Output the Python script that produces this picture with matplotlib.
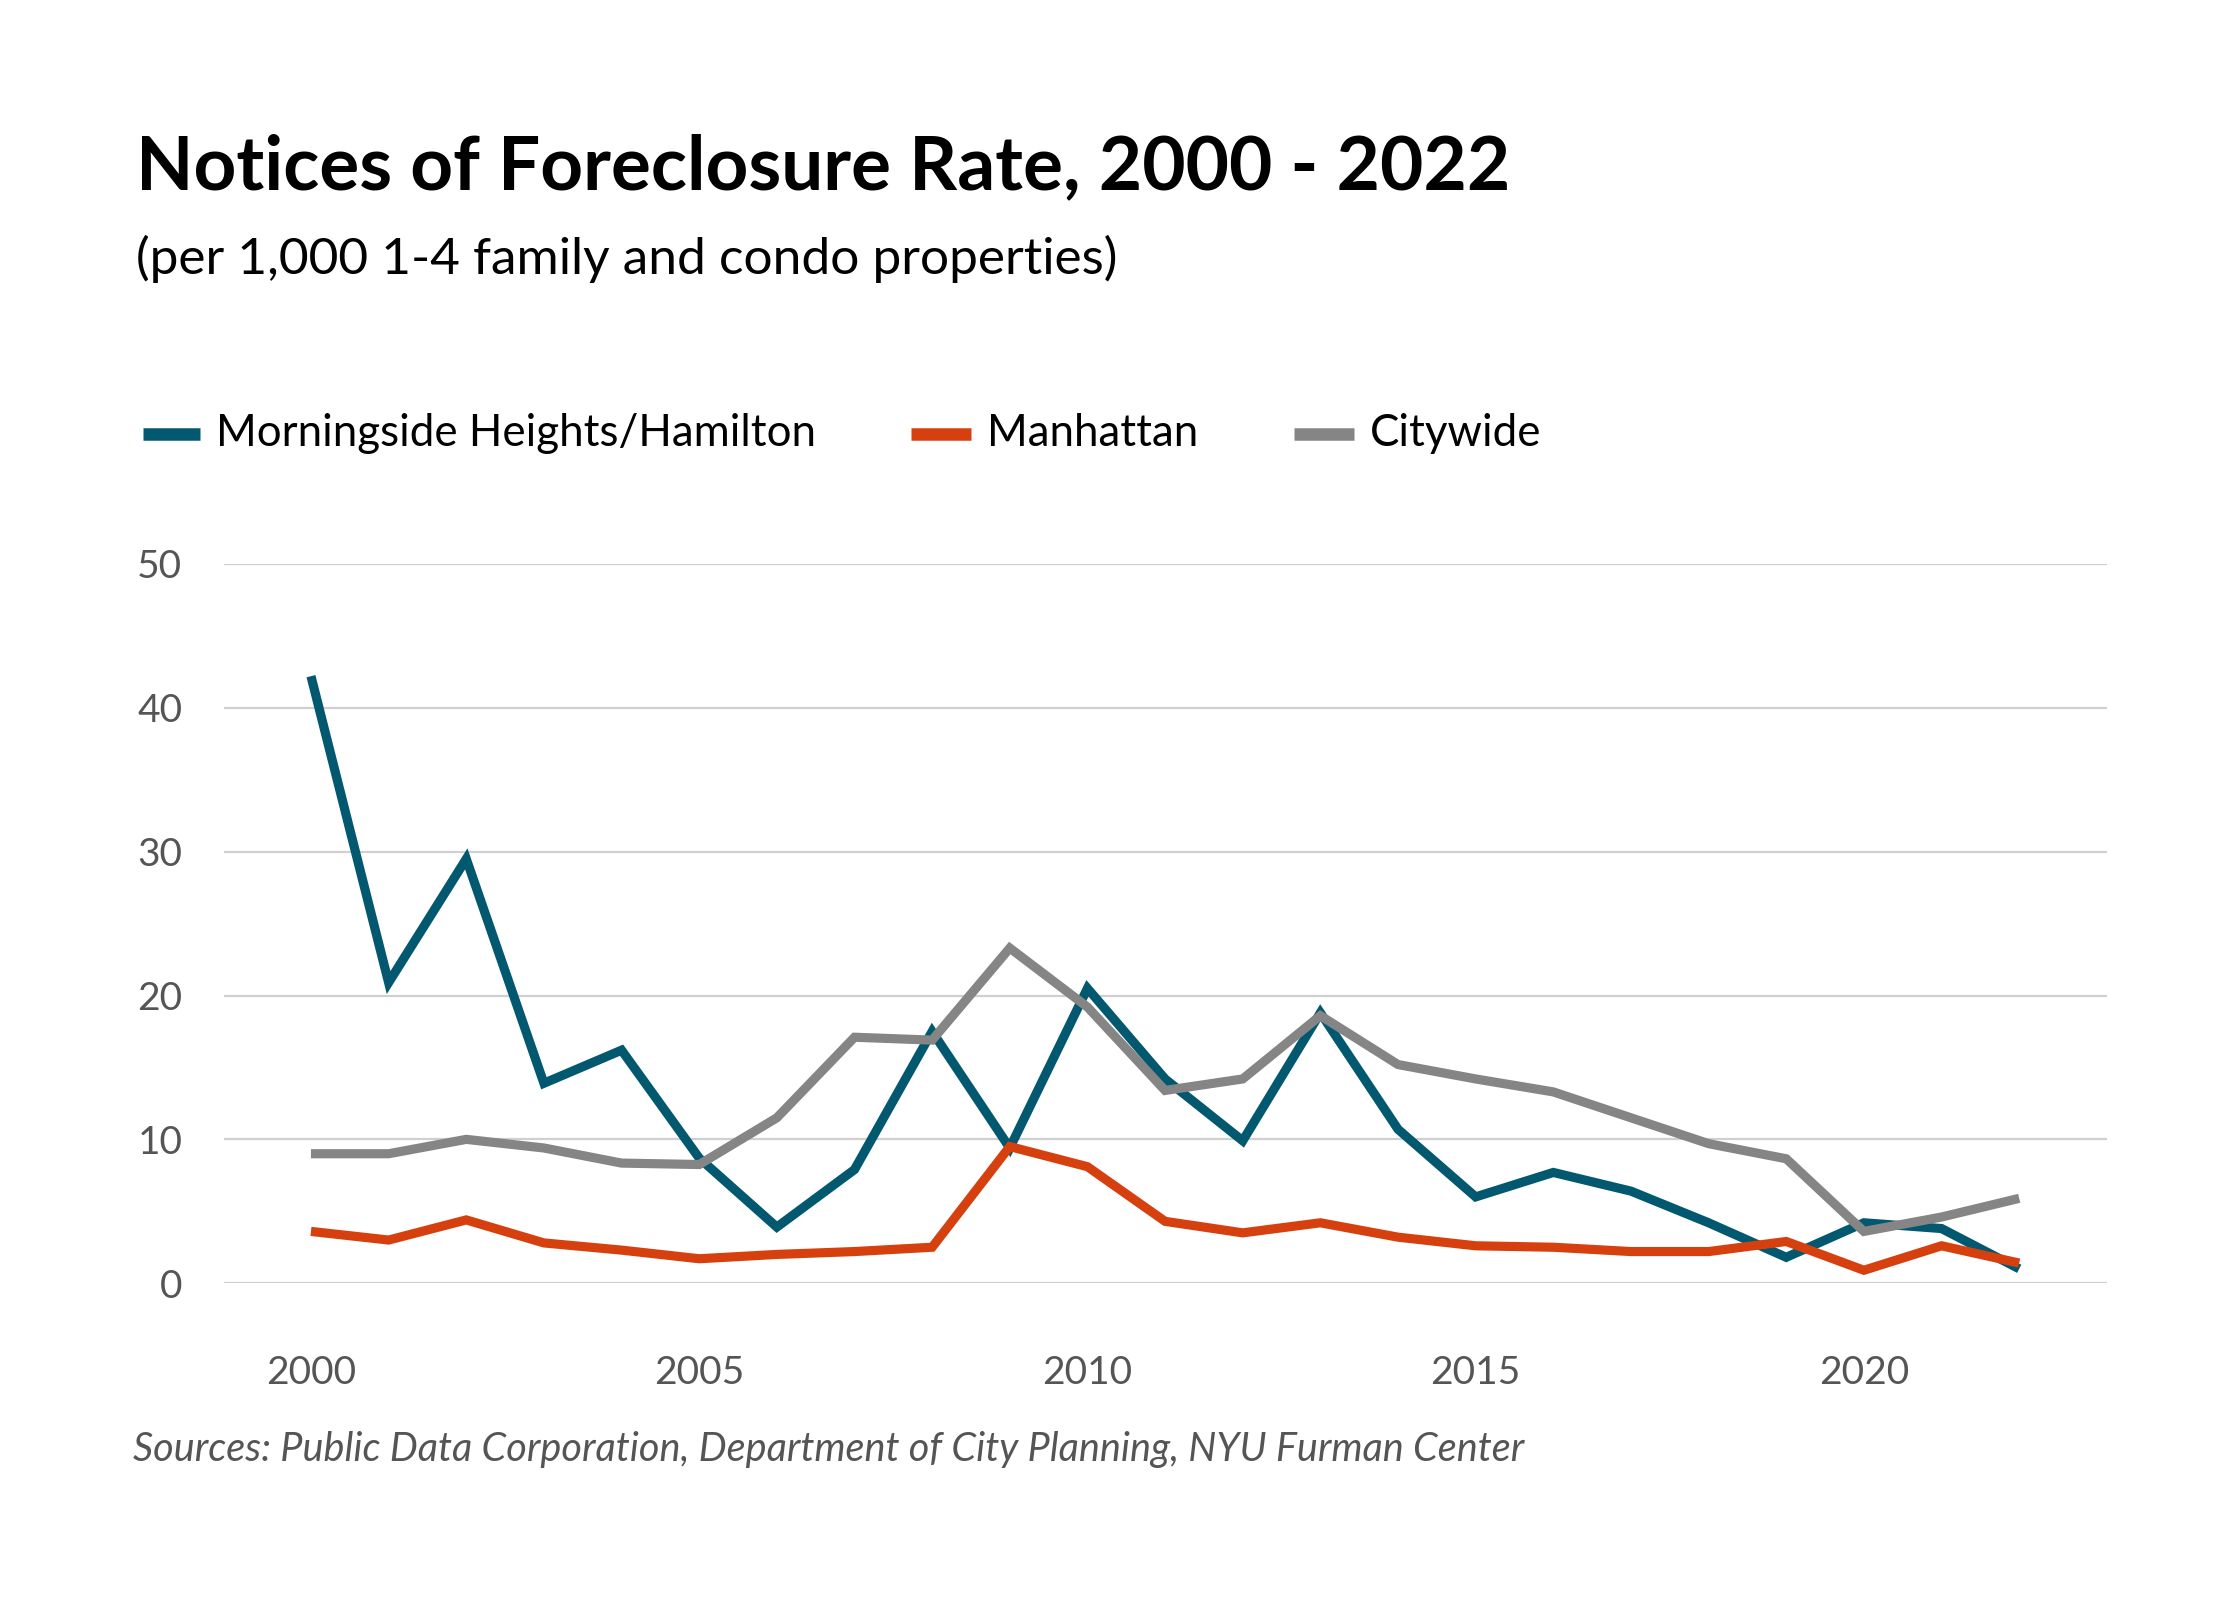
import matplotlib
matplotlib.use("Agg")
import matplotlib.pyplot as plt
from matplotlib.lines import Line2D

# Notices of foreclosure per 1,000 1-4 family and condo properties
years = list(range(2000, 2023))
morningside = [42.2, 20.9, 29.5, 13.9, 16.2, 8.7, 3.9, 7.9, 17.5, 9.4, 20.5, 14.2,
               9.9, 18.8, 10.7, 6.0, 7.7, 6.4, 4.2, 1.8, 4.2, 3.8, 1.0]
manhattan = [3.6, 3.0, 4.4, 2.8, 2.3, 1.7, 2.0, 2.2, 2.5, 9.5, 8.1, 4.3,
             3.5, 4.2, 3.2, 2.6, 2.5, 2.2, 2.2, 2.9, 0.9, 2.6, 1.4]
citywide = [9.0, 9.0, 10.0, 9.4, 8.35, 8.25, 11.5, 17.1, 16.9, 23.3, 19.2, 13.4,
            14.2, 18.6, 15.2, 14.2, 13.3, 11.5, 9.7, 8.65, 3.6, 4.6, 5.9]

series_names = ["Morningside Heights/Hamilton", "Manhattan", "Citywide"]
series_colors = ["#02586f", "#d6400f", "#858585"]
y_ticks = [0, 10, 20, 30, 40, 50]
x_ticks = [2000, 2005, 2010, 2015, 2020]

plt.rcParams["font.family"] = ["Lato", "DejaVu Sans"]

fig = plt.figure(figsize=(11.2, 8), dpi=200)
ax = fig.add_axes([0.1, 0.198, 0.8406, 0.4495])

for vals, color, name in zip([morningside, manhattan, citywide], series_colors, series_names):
    ax.plot(years, vals, color=color, lw=3.3, label=name,
            solid_joinstyle="miter", solid_capstyle="butt", clip_on=False)

ax.set_xlim(1998.88, 2023.13)
ax.set_ylim(0, 50)
ax.set_yticks(y_ticks)
ax.set_xticks(x_ticks)
ax.set_yticklabels([str(v) for v in y_ticks])
ax.set_xticklabels([str(v) for v in x_ticks])
ax.tick_params(axis="both", length=0, labelsize=14, labelcolor="#555555")
ax.tick_params(axis="y", pad=15)
ax.tick_params(axis="x", pad=26)
ax.grid(True, axis="y", color="#d0d0d0", lw=0.8)
ax.set_axisbelow(True)
for s in ax.spines.values():
    s.set_visible(False)

# Title block
fig.text(0.0607, 0.882, "Notices of Foreclosure Rate, 2000 - 2022",
         fontsize=26.9, fontweight="bold", color="black", va="baseline")
fig.text(0.0607, 0.8285, "(per 1,000 1-4 family and condo properties)",
         fontsize=18.5, color="black", va="baseline")

# Legend drawn by hand to match the horizontal layout
legend_y = 1 - 434 / 1600
handle_x = [(143, 200), (911, 971), (1294, 1354)]
for (x0, x1), color, name in zip(handle_x, series_colors, series_names):
    fig.add_artist(Line2D([x0 / 2240, x1 / 2240], [legend_y, legend_y],
                          color=color, lw=4.5, solid_capstyle="butt"))
    fig.text((x1 + 16) / 2240, legend_y, name, fontsize=15.8,
             color="black", va="center")

fig.text(0.0594, 1 - 1450 / 1600,
         "Sources: Public Data Corporation, Department of City Planning, NYU Furman Center",
         fontsize=14.25, style="italic", color="#555555", va="center")

fig.savefig("out.png", dpi=200)
